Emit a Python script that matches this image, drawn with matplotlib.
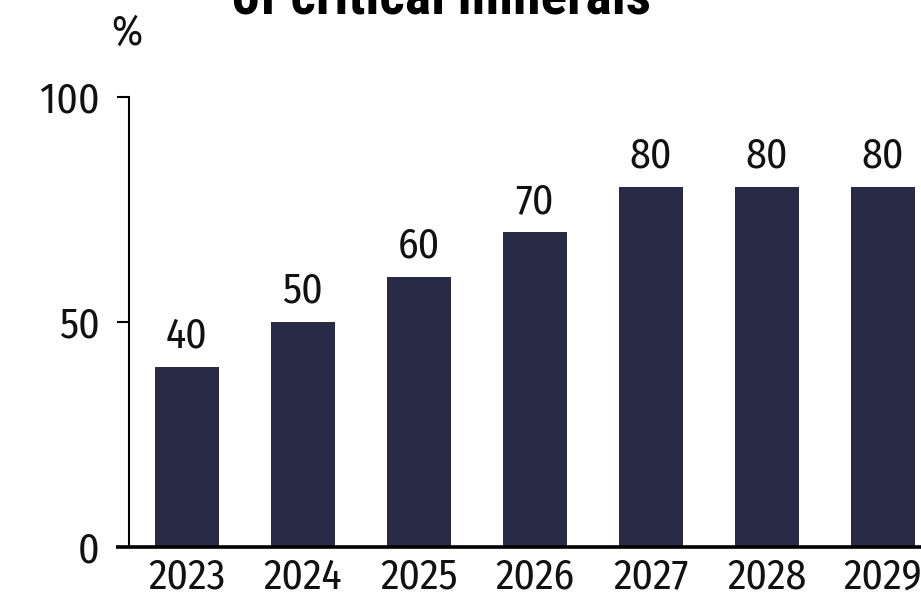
import matplotlib.pyplot as plt
from matplotlib import font_manager
from matplotlib.font_manager import FontProperties

# ---------------- Data ----------------
years = ["2023", "2024", "2025", "2026", "2027", "2028", "2029"]
shares = [40, 50, 60, 70, 80, 80, 80]
y_ticks = [0, 50, 100]

BAR_COLOR = "#292a45"
TEXT_COLOR = "#111111"

files = [f.fname for f in font_manager.fontManager.ttflist]


def find_font(prefs):
    # pick the first installed file of the wanted faces (matched by file name)
    for p in prefs:
        for f in files:
            if f.split("/")[-1].lower() == p.lower():
                return f
    return None


reg = find_font(["FiraSansCondensed-Regular.ttf", "RobotoCondensed-Regular.ttf"])
bold = find_font(["RobotoCondensed-ExtraBold.ttf", "RobotoCondensed-Bold.ttf",
                  "FiraSansCondensed-Bold.ttf"])
fp = FontProperties(fname=reg) if reg else FontProperties(family="DejaVu Sans")
fpb = FontProperties(fname=bold) if bold else FontProperties(family="DejaVu Sans", weight="bold")

fig = plt.figure(figsize=(9.21, 5.97), dpi=100)
ax = fig.add_axes([129 / 921, 1 - 547 / 597, 1 - 129 / 921, (547 - 97) / 597])

x = list(range(len(years)))
ax.bar(x, shares, width=0.55, color=BAR_COLOR, zorder=2)
for xi, v in zip(x, shares):
    ax.text(xi, v + 4.3, str(v), ha="center", va="baseline", fontproperties=fp, fontsize=30,
            color=TEXT_COLOR)

ax.set_xlim(-0.5, 6.33)
ax.set_ylim(0, 100)
ax.set_yticks(y_ticks)
ax.set_xticks(x)
ax.set_xticklabels(years)
for lab in ax.get_xticklabels() + ax.get_yticklabels():
    lab.set_fontproperties(fp)
    lab.set_fontsize(30)
    lab.set_color(TEXT_COLOR)

for s in ["top", "right"]:
    ax.spines[s].set_visible(False)
ax.spines["left"].set_linewidth(1.5)
ax.spines["bottom"].set_linewidth(2.6)
ax.spines["bottom"].set_bounds(-0.612, 6.33)
ax.spines["bottom"].set_capstyle("butt")

ax.tick_params(axis="y", length=9, width=1.5, pad=12, direction="out")
ax.tick_params(axis="x", length=0, pad=7)

fig.text(127 / 921, 1 - 45 / 597, "%", ha="center", va="baseline", fontproperties=fp,
         fontsize=30, color=TEXT_COLOR)
fig.text(441 / 921, 1 - 14 / 597, "of critical minerals", ha="center", va="baseline",
         fontproperties=fpb, fontsize=40, color="black")

fig.savefig("out.png", dpi=100)
